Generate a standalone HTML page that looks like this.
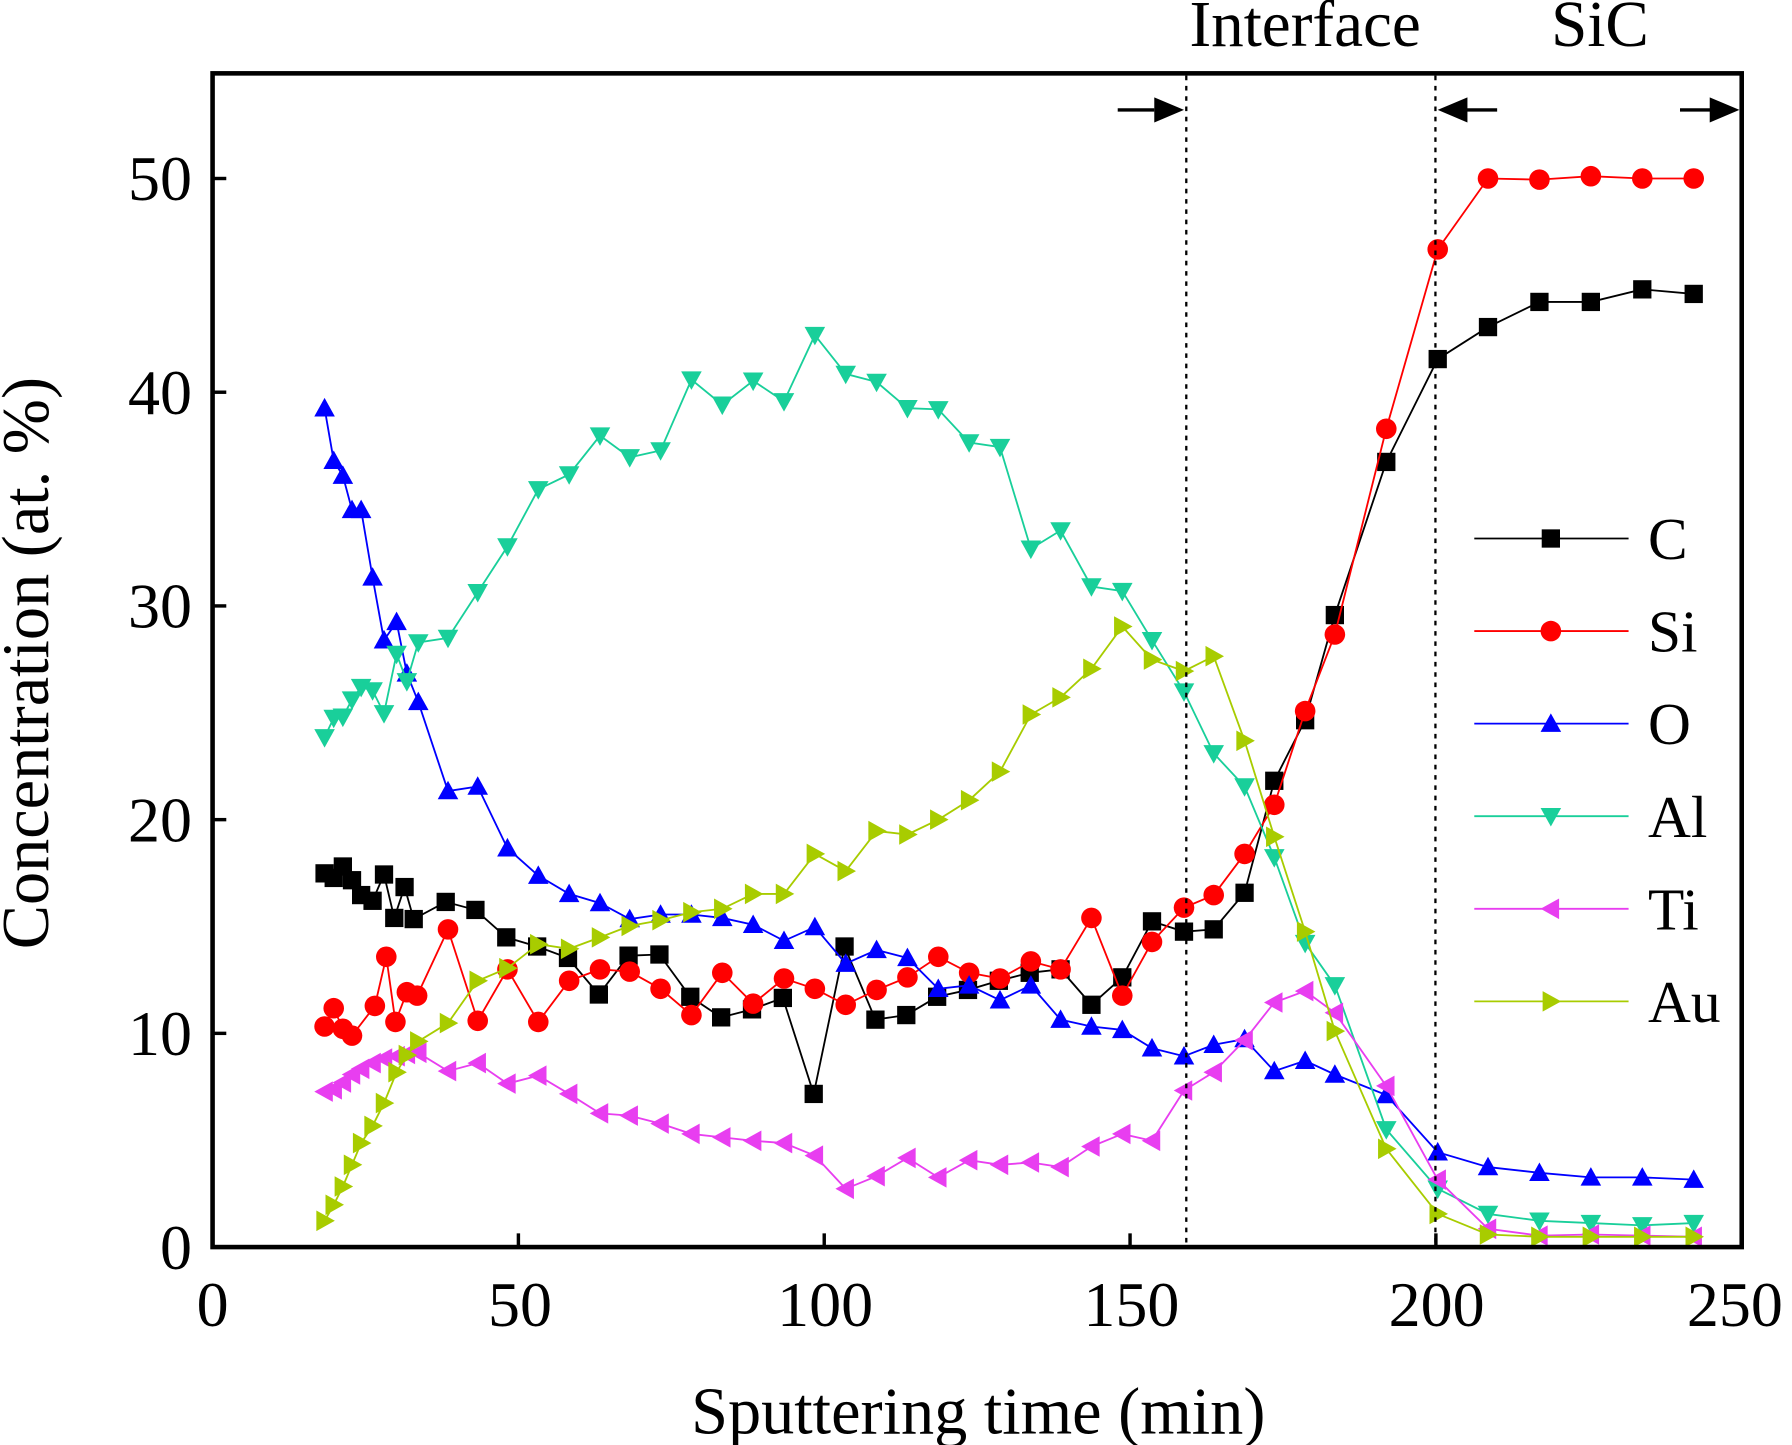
<!DOCTYPE html>
<html><head><meta charset="utf-8"><style>
html,body{margin:0;padding:0;background:#fff;}
svg{display:block;}
text{font-family:"Liberation Serif",serif;fill:#000;}
</style></head><body>
<svg id="s" width="1792" height="1445" viewBox="0 0 1568 1264" xmlns="http://www.w3.org/2000/svg">
<rect x="0" y="0" width="1568" height="1264" fill="#fff"/>
<g id="plot"></g>
<rect x="186" y="64" width="1338" height="1027" fill="none" stroke="#000" stroke-width="4"/>
<g stroke="#000" stroke-width="3">
<line x1="186" y1="1091" x2="186" y2="1079"/><line x1="453.6" y1="1091" x2="453.6" y2="1079"/><line x1="721.2" y1="1091" x2="721.2" y2="1079"/><line x1="988.8" y1="1091" x2="988.8" y2="1079"/><line x1="1256.4" y1="1091" x2="1256.4" y2="1079"/>
<line x1="186" y1="904" x2="198" y2="904"/><line x1="186" y1="717" x2="198" y2="717"/><line x1="186" y1="530" x2="198" y2="530"/><line x1="186" y1="343" x2="198" y2="343"/><line x1="186" y1="156" x2="198" y2="156"/>
</g>
<g font-size="56" text-anchor="middle">
<text x="186" y="1160">0</text><text x="455" y="1160">50</text><text x="722" y="1160">100</text><text x="990" y="1160">150</text><text x="1257" y="1160">200</text><text x="1518" y="1160">250</text>
</g>
<g font-size="56" text-anchor="end">
<text x="168" y="1110">0</text><text x="168" y="923">10</text><text x="168" y="736">20</text><text x="168" y="549">30</text><text x="168" y="362">40</text><text x="168" y="175">50</text>
</g>
<text x="856" y="1254" font-size="58" text-anchor="middle">Sputtering time (min)</text>
<text transform="translate(42,580) rotate(-90)" font-size="58" text-anchor="middle">Concentration (at. %)</text>
<text x="1142" y="40" font-size="57" text-anchor="middle">Interface</text>
<text x="1400" y="40" font-size="57" text-anchor="middle">SiC</text>
<g stroke="#000" stroke-width="2" stroke-dasharray="4,5">
<line x1="1038" y1="66" x2="1038" y2="1089"/><line x1="1256" y1="66" x2="1256" y2="1089"/>
</g>
<g stroke="#000" stroke-width="3">
<line x1="978" y1="96" x2="1010" y2="96"/><line x1="1310" y1="96" x2="1280" y2="96"/><line x1="1470" y1="96" x2="1500" y2="96"/>
</g>
<polygon points="1010,85 1036,96 1010,107" fill="#000"/>
<polygon points="1284,85 1258,96 1284,107" fill="#000"/>
<polygon points="1496,85 1522,96 1496,107" fill="#000"/>
<g font-size="52">
<text x="1442" y="489">C</text><text x="1442" y="570">Si</text><text x="1442" y="651">O</text><text x="1442" y="732">Al</text><text x="1442" y="813">Ti</text><text x="1442" y="894">Au</text>
</g>
<g id="leg"></g>
</svg>
<script>
var S=[
["#000","sq",[[284,764],[292,768],[300,758],[308,770],[316,783],[326,788],[336,765],[345,803],[354,776],[362,804],[390,789],[416,796],[443,820],[470,828],[497,838],[524,870],[550,836],[577,835],[604,872],[631,890],[658,883],[685,873],[712,957],[739,828],[766,892],[793,888],[820,872],[847,866],[874,858],[901,851],[928,848],[955,879],[982,855],[1008,806],[1036,815],[1062,813],[1089,781],[1115,683],[1142,630],[1168,538],[1213,404],[1258,314],[1302,286],[1347,264],[1392,264],[1437,253],[1482,257]]],
["#f00","ci",[[284,898],[292,882],[300,900],[308,906],[328,880],[338,837],[346,894],[356,868],[365,871],[392,813],[418,893],[444,848],[471,894],[498,858],[525,848],[551,850],[578,865],[605,888],[632,851],[659,878],[686,856],[713,865],[740,879],[767,866],[794,855],[821,837],[848,851],[875,856],[902,841],[928,848],[955,803],[982,871],[1008,824],[1036,794],[1062,783],[1089,747],[1115,704],[1142,622],[1168,555],[1213,375],[1258,218],[1302,156],[1347,157],[1392,154],[1437,156],[1482,156]]],
["#0000ff","up",[[284,357],[292,403],[300,416],[308,446],[316,446],[326,505],[336,560],[347,544],[356,589],[366,614],[392,692],[418,688],[444,742],[471,766],[498,782],[525,790],[551,804],[578,800],[605,800],[632,803],[659,809],[686,823],[713,811],[740,843],[767,831],[794,838],[821,865],[848,862],[875,875],[902,862],[928,892],[955,898],[982,901],[1008,917],[1036,924],[1062,914],[1089,909],[1115,937],[1142,928],[1168,940],[1213,958],[1258,1008],[1302,1021],[1347,1026],[1392,1030],[1437,1030],[1482,1032]]],
["#19cf9a","dn",[[284,645],[292,628],[300,627],[308,612],[316,601],[326,604],[336,624],[347,572],[356,596],[366,562],[392,558],[418,518],[444,478],[471,428],[498,415],[525,381],[551,400],[578,394],[605,332],[632,354],[659,333],[686,351],[713,293],[740,327],[767,334],[794,357],[821,358],[848,387],[875,391],[902,480],[928,464],[955,513],[982,517],[1008,560],[1036,605],[1062,659],[1089,688],[1115,750],[1142,825],[1168,862],[1213,988],[1258,1040],[1302,1062],[1347,1068],[1392,1070],[1437,1072],[1482,1070]]],
["#e83ef0","lf",[[284,955],[292,953],[300,947],[308,940],[316,935],[326,930],[336,926],[347,924],[356,922],[366,921],[392,937],[418,930],[444,948],[471,941],[498,957],[525,974],[551,976],[578,983],[605,992],[632,995],[659,998],[686,1000],[713,1011],[740,1040],[767,1029],[794,1013],[821,1030],[848,1015],[875,1019],[902,1017],[928,1021],[955,1003],[982,992],[1008,998],[1036,954],[1062,938],[1089,910],[1115,877],[1142,867],[1168,886],[1213,950],[1258,1032],[1302,1075],[1347,1081],[1392,1080],[1437,1081],[1482,1082]]],
["#a8cc00","rt",[[284,1068],[292,1054],[300,1038],[308,1019],[316,1000],[326,985],[336,965],[347,938],[356,923],[366,911],[392,895],[418,858],[444,847],[471,826],[498,830],[525,820],[551,810],[578,805],[605,798],[632,795],[659,782],[686,782],[713,747],[740,762],[767,727],[794,730],[821,717],[848,700],[875,675],[902,625],[928,610],[955,585],[982,548],[1008,577],[1036,587],[1062,574],[1089,648],[1115,732],[1142,815],[1168,902],[1213,1005],[1258,1062],[1302,1080],[1347,1082],[1392,1082],[1437,1082],[1482,1082]]]
];
var NS="http://www.w3.org/2000/svg";
function mk(t,a,p){var e=document.createElementNS(NS,t);for(var k in a)e.setAttribute(k,a[k]);p.appendChild(e);return e;}
function mark(g,type,x,y,c){var r=9;
 if(type=="sq")mk("rect",{x:x-8,y:y-8,width:16,height:16,fill:c},g);
 else if(type=="ci")mk("circle",{cx:x,cy:y,r:9,fill:c},g);
 else{var p;
  if(type=="up")p=[[x,y-r],[x+r,y+r*0.8],[x-r,y+r*0.8]];
  if(type=="dn")p=[[x,y+r],[x+r,y-r*0.8],[x-r,y-r*0.8]];
  if(type=="lf")p=[[x-r,y],[x+r*0.8,y-r],[x+r*0.8,y+r]];
  if(type=="rt")p=[[x+r,y],[x-r*0.8,y-r],[x-r*0.8,y+r]];
  mk("polygon",{points:p.map(function(q){return q.join(",")}).join(" "),fill:c},g);}
}
var g=document.getElementById("plot"),L=document.getElementById("leg");
S.forEach(function(s,i){
 mk("polyline",{points:s[2].map(function(q){return q.join(",")}).join(" "),fill:"none",stroke:s[0],"stroke-width":1.6},g);
 s[2].forEach(function(q){mark(g,s[1],q[0],q[1],s[0]);});
 var y=471+i*81;
 mk("line",{x1:1290,y1:y,x2:1425,y2:y,stroke:s[0],"stroke-width":1.6},L);
 mark(L,s[1],1357,y,s[0]);
});
</script>
</body></html>
